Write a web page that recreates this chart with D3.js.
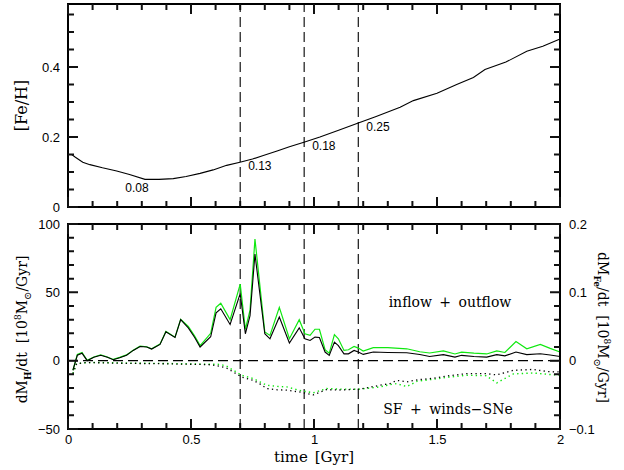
<!DOCTYPE html>
<html><head><meta charset="utf-8">
<script src="https://cdn.jsdelivr.net/npm/d3@7"></script>
<style>body{margin:0;background:#fff} svg{display:block}</style>
</head><body><svg id="c" width="624" height="470"></svg>
<script>
// ---- data ----
const timeFe = [0.015,0.03,0.06,0.089,0.14,0.198,0.25,0.313,0.37,0.428,0.48,0.537,0.59,0.645,0.699,0.75,0.794,0.85,0.9,0.959,1.024,1.1,1.18,1.25,1.35,1.404,1.5,1.58,1.648,1.695,1.78,1.865,1.93,2.0];
const feH = [0.150,0.142,0.128,0.121,0.112,0.103,0.093,0.079,0.079,0.081,0.087,0.096,0.106,0.119,0.128,0.137,0.147,0.160,0.172,0.185,0.2,0.219,0.240,0.258,0.285,0.304,0.325,0.35,0.37,0.393,0.414,0.445,0.459,0.48];

const timeFlow = [0.02,0.038,0.057,0.078,0.105,0.133,0.16,0.184,0.21,0.238,0.265,0.293,0.32,0.34,0.374,0.398,0.435,0.458,0.489,0.515,0.537,0.58,0.602,0.621,0.659,0.700,0.721,0.740,0.760,0.800,0.821,0.859,0.900,0.940,0.963,0.984,1.004,1.022,1.045,1.062,1.083,1.099,1.122,1.140,1.163,1.180,1.200,1.241,1.300,1.377,1.430,1.470,1.526,1.573,1.600,1.650,1.702,1.743,1.776,1.821,1.865,1.920,1.960,2.000];
// inflow + outflow, hydrogen [1e8 Msun/Gyr] (left axis)
const flowH = [-7,4,5.5,0,2.5,4,2.5,0.7,2.2,4,7.5,10.4,10,8.5,11.9,21.2,17,30,24,17,10,17.5,35,38,26.5,49,19.7,33,78,19.7,16,32,12.9,24,16,14.8,17.2,17,6.3,3.9,13.6,11,5,5,7.5,6.3,4.6,6.3,6,5.8,4.5,3.1,4.4,2.6,3.9,3,2.6,4.4,3.5,6.3,4.4,5.1,4.2,3.1];
// inflow + outflow, iron [1e8 Msun/Gyr] (right axis)
const flowFe = [-0.014,0.009,0.012,0.0006,0.0054,0.0086,0.0054,0.0018,0.0048,0.0084,0.0154,0.0212,0.0204,0.0174,0.0242,0.0428,0.0344,0.0604,0.05,0.036,0.022,0.04,0.078,0.084,0.06,0.112,0.046,0.074,0.178,0.042,0.037,0.078,0.032,0.06,0.0394,0.037,0.046,0.046,0.016,0.011,0.038,0.032,0.015,0.016,0.0208,0.0184,0.014,0.019,0.019,0.0174,0.013,0.0112,0.0144,0.0098,0.0126,0.011,0.0098,0.0144,0.012,0.028,0.0174,0.0238,0.018,0.0126];

const timeSF = [0.02,0.035,0.07,0.12,0.17,0.25,0.374,0.45,0.537,0.58,0.618,0.645,0.672,0.706,0.753,0.78,0.808,0.85,0.889,0.94,0.997,1.051,1.1,1.187,1.268,1.309,1.336,1.377,1.42,1.485,1.55,1.62,1.7,1.743,1.81,1.891,1.95,2.0];
// SF + winds - SNe, hydrogen (left axis)
const sfH = [-9.5,-2.2,-1.5,-1.5,-1.7,-2,-2.2,-2.5,-2.7,-3,-4.1,-5.5,-8.3,-12,-14.4,-17,-20.4,-21.3,-21.6,-22.9,-25,-21.2,-21.5,-20.8,-18,-16.8,-14.4,-15.5,-14,-12.9,-11,-9.5,-9.5,-10.4,-7.1,-6.4,-8,-8.3];
// SF + winds - SNe, iron (right axis)
const sfFe = [-0.019,-0.0044,-0.003,-0.0026,-0.003,-0.0036,-0.004,-0.0044,-0.005,-0.0052,-0.0054,-0.008,-0.014,-0.0214,-0.0262,-0.031,-0.036,-0.0376,-0.0384,-0.0434,-0.047,-0.0408,-0.0416,-0.0416,-0.0384,-0.035,-0.0336,-0.038,-0.03,-0.0272,-0.024,-0.0214,-0.022,-0.0326,-0.0194,-0.018,-0.02,-0.0214];

const markTimes = [0.7, 0.96, 1.18];
const markLabels = ["0.13", "0.18", "0.25"];
const minTime = 0.313, minLabel = "0.08";

const xTickValues = [0, 0.5, 1, 1.5, 2];
const xTickLabels = ["0", "0.5", "1", "1.5", "2"];
const feHTicks = [0, 0.2, 0.4];
const feHTickLabels = ["0", "0.2", "0.4"];
const hTicks = [-50, 0, 50, 100];
const hTickLabels = ["\u221250", "0", "50", "100"];
const feTicks = [-0.1, 0, 0.1, 0.2];
const feTickLabels = ["\u22120.1", "0", "0.1", "0.2"];

// ---- layout ----
const svg = d3.select("#c");
const L = 68, R = 560;
const topP = {t: 4, b: 207};
const botP = {t: 224, b: 429};
const GREEN = "#10e810";
const SANS = "'Liberation Sans', Arial, sans-serif";
const SERIF = "'DejaVu Serif', serif";

const x = d3.scaleLinear([0, 2], [L, R]);
const yFeH = d3.scaleLinear([0, 0.58], [topP.b, topP.t]);
const yH = d3.scaleLinear([-50, 100], [botP.b, botP.t]);
const yFe = d3.scaleLinear([-0.1, 0.2], [botP.b, botP.t]);

function minor(lo, hi, step) {
  const n = Math.round((hi - lo) / step);
  return d3.range(n + 1).map(i => +(lo + i * step).toFixed(6));
}

function labelAxis(axis, tx, ty) {
  const g = svg.append("g").attr("transform", `translate(${tx},${ty})`).call(axis);
  g.select(".domain").remove();
  g.selectAll(".tick line").remove();
  g.selectAll("text").attr("font-family", SANS).attr("font-size", 13).attr("fill", "#000");
  return g;
}

const tickLayer = [];
function tickMarks(vals, scale, len, side, P) {
  vals.forEach(v => {
    const p = scale(v);
    if (side === "bottom") tickLayer.push(`M${p},${P.b}V${P.b - len}`);
    else if (side === "top") tickLayer.push(`M${p},${P.t}V${P.t + len}`);
    else if (side === "left") tickLayer.push(`M${L},${p}H${L + len}`);
    else tickLayer.push(`M${R},${p}H${R - len}`);
  });
}

function frameAxes(P, yScale, yMinor, yMajor, yLabels, xLabels, yRight, yRightMinor, yRightMajor, yRightLabels) {
  const maj = 10, mn = 6;
  const xMinor = minor(0, 2, 0.1);
  ["bottom", "top"].forEach(sd => {
    tickMarks(xMinor, x, mn, sd, P);
    tickMarks(xTickValues, x, maj, sd, P);
  });
  tickMarks(yMinor, yScale, mn, "left", P);
  tickMarks(yMajor, yScale, maj, "left", P);
  const yr = yRight || yScale;
  tickMarks(yRightMinor || yMinor, yr, mn, "right", P);
  tickMarks(yRightMajor || yMajor, yr, maj, "right", P);

  if (xLabels) labelAxis(d3.axisBottom(x).tickValues(xTickValues).tickSize(0).tickPadding(6)
    .tickFormat((d, i) => xLabels[i]), 0, P.b);
  labelAxis(d3.axisLeft(yScale).tickValues(yMajor).tickSize(0).tickPadding(8)
    .tickFormat((d, i) => yLabels[i]), L, 0);
  if (yRightLabels) labelAxis(d3.axisRight(yr).tickValues(yRightMajor).tickSize(0).tickPadding(9)
    .tickFormat((d, i) => yRightLabels[i]), R, 0);
  svg.append("rect").attr("x", L).attr("y", P.t).attr("width", R - L).attr("height", P.b - P.t)
    .attr("fill", "none").attr("stroke", "#000").attr("stroke-width", 2);
}

// ---- top panel ----
markTimes.forEach(t => {
  svg.append("line").attr("x1", x(t)).attr("x2", x(t)).attr("y1", topP.b).attr("y2", topP.t)
    .attr("stroke", "#000").attr("stroke-width", 1.1).attr("stroke-dasharray", "10,5");
});
const feLine = d3.line().x((d, i) => x(timeFe[i])).y(d => yFeH(d));
svg.append("path").datum(feH).attr("d", feLine).attr("fill", "none")
  .attr("stroke", "#000").attr("stroke-width", 1.1);

const interpFe = t => {
  const i = Math.max(1, d3.bisectLeft(timeFe, t));
  const t0 = timeFe[i - 1], t1 = timeFe[i];
  return feH[i - 1] + (feH[i] - feH[i - 1]) * (t - t0) / (t1 - t0);
};
svg.append("text").attr("x", x(minTime) - 8).attr("y", yFeH(interpFe(minTime)) + 13)
  .attr("text-anchor", "middle").attr("font-family", SANS).attr("font-size", 12).text(minLabel);
markTimes.forEach((t, i) => {
  svg.append("text").attr("x", x(t) + 8).attr("y", yFeH(interpFe(t)) + 8)
    .attr("font-family", SANS).attr("font-size", 12).text(markLabels[i]);
});

frameAxes(topP, yFeH, minor(0, 0.55, 0.05), feHTicks, feHTickLabels, null);

svg.append("text").attr("transform", `translate(27,${(topP.t + topP.b) / 2}) rotate(-90)`)
  .attr("text-anchor", "middle").attr("font-family", SERIF).attr("font-size", 16).text("[Fe/H]");

// ---- bottom panel ----
markTimes.forEach(t => {
  svg.append("line").attr("x1", x(t)).attr("x2", x(t)).attr("y1", botP.b).attr("y2", botP.t)
    .attr("stroke", "#000").attr("stroke-width", 1.1).attr("stroke-dasharray", "10,5");
});
svg.append("line").attr("x1", L).attr("x2", R).attr("y1", yH(0)).attr("y2", yH(0))
  .attr("stroke", "#000").attr("stroke-width", 1.1).attr("stroke-dasharray", "10,5");

const lineH = ts => d3.line().x((d, i) => x(ts[i])).y(d => yH(d));
const lineFe = ts => d3.line().x((d, i) => x(ts[i])).y(d => yFe(d));

svg.append("path").datum(sfFe).attr("d", lineFe(timeSF)).attr("fill", "none")
  .attr("stroke", GREEN).attr("stroke-width", 1.4).attr("stroke-dasharray", "1.4,3.2");
svg.append("path").datum(sfH).attr("d", lineH(timeSF)).attr("fill", "none")
  .attr("stroke", "#000").attr("stroke-width", 1.3).attr("stroke-dasharray", "1.3,3.3");
svg.append("path").datum(flowFe).attr("d", lineFe(timeFlow)).attr("fill", "none")
  .attr("stroke", GREEN).attr("stroke-width", 1.2);
svg.append("path").datum(flowH).attr("d", lineH(timeFlow)).attr("fill", "none")
  .attr("stroke", "#000").attr("stroke-width", 1.1);

frameAxes(botP, yH, minor(-50, 100, 10), hTicks, hTickLabels, xTickLabels,
  yFe, minor(-0.1, 0.2, 0.02), feTicks, feTickLabels);

// all tick marks in one path, drawn last
svg.append("path").attr("d", tickLayer.join("")).attr("fill", "none")
  .attr("stroke", "#111").attr("stroke-width", 2);

svg.append("text").attr("x", 450).attr("y", 307).attr("text-anchor", "middle")
  .attr("font-family", SERIF).attr("font-size", 14).attr("word-spacing", 3).text("inflow + outflow");
svg.append("text").attr("x", 448).attr("y", 414).attr("text-anchor", "middle")
  .attr("font-family", SERIF).attr("font-size", 14).attr("word-spacing", 3).text("SF + winds\u2212SNe");
svg.append("text").attr("x", 314).attr("y", 462).attr("text-anchor", "middle")
  .attr("font-family", SERIF).attr("font-size", 15).attr("word-spacing", 2).text("time [Gyr]");

function massLabel(sel, sub) {
  sel.append("tspan").text("dM");
  sel.append("tspan").attr("font-size", 9).attr("font-weight", "bold").attr("baseline-shift", -4).text(sub);
  sel.append("tspan").text("/dt  [10");
  sel.append("tspan").attr("font-size", 9).attr("baseline-shift", 6).text("8");
  sel.append("tspan").text("M");
  sel.append("tspan").attr("font-size", 10).attr("baseline-shift", -4).text("\u2299");
  sel.append("tspan").text("/Gyr]");
}
const ll = svg.append("text").attr("transform", `translate(27,${(botP.t + botP.b) / 2 + 3}) rotate(-90)`)
  .attr("text-anchor", "middle").attr("font-family", SERIF).attr("font-size", 14)
  .style("white-space", "pre");
massLabel(ll, "H");
const rl = svg.append("text").attr("transform", `translate(598,${(botP.t + botP.b) / 2 + 1}) rotate(90)`)
  .attr("text-anchor", "middle").attr("font-family", SERIF).attr("font-size", 14)
  .style("white-space", "pre");
massLabel(rl, "Fe");
</script>
</body></html>
